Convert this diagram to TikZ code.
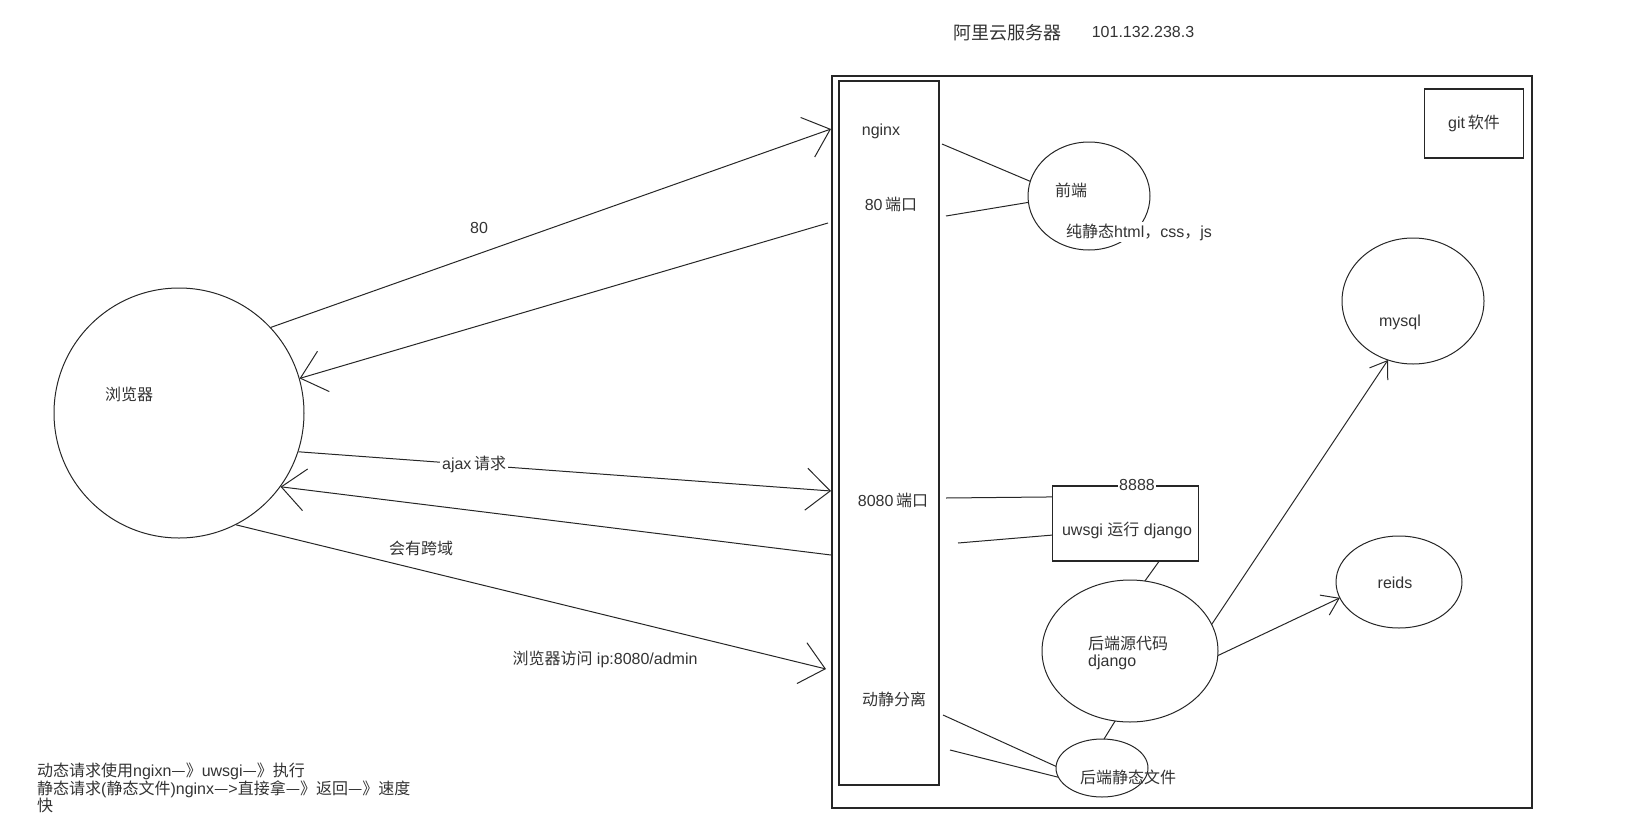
\documentclass[tikz,border=0pt]{standalone}
\usepackage{fontspec}
\setmainfont{Liberation Sans}
\newfontfamily\zhfont{Noto Sans CJK SC}
\newcommand\zh[1]{{\zhfont #1}}
\usetikzlibrary{shapes.geometric,arrows.meta}
\tikzset{
  ln/.style={line width=1pt, draw=black!85},
  arr/.style={ln, -{Straight Barb[length=24pt,width=42pt,line width=1pt]}},
  sarr/.style={ln, -{Straight Barb[length=16pt,width=22pt,line width=1pt]}},
  lbl/.style={text=black!80, font=\fontsize{16}{19}\selectfont, inner sep=1pt},
  ell/.style={draw=black!85, ellipse, line width=1pt, inner sep=0pt, outer sep=0pt},
  box/.style={draw=black!85, line width=1.2pt, inner sep=0pt, outer sep=0pt}
}
\begin{document}
\begin{tikzpicture}[x=1pt,y=-1pt]
\useasboundingbox (0,0) rectangle (1634,825);
% title
\node[lbl, font=\fontsize{18}{21}\selectfont] (title) at (1007,33) {\zh{阿里云服务器}};
\node[lbl] (ip) at (1143,32) {101.132.238.3};
% server frame and nginx column
\node[box, anchor=north west, minimum width=700pt, minimum height=732pt] (server) at (832,76) {};
\node[box, anchor=north west, minimum width=100pt, minimum height=704pt] (ngx) at (839,81) {};
\node[lbl] (tnginx) at (881,131) {nginx};
\node[lbl] (t80) at (891,204) {80\,\zh{端口}};
\node[lbl] (t8080) at (893,500) {8080\,\zh{端口}};
\node[lbl] (tdj) at (894,699) {\zh{动静分离}};
% browser
\node[draw=black!85, circle, line width=1pt, minimum size=250pt, inner sep=0pt] (browser) at (179,413) {};
\node[lbl] (tbrowser) at (129,394) {\zh{浏览器}};
% front end
\node[ell, minimum width=122pt, minimum height=108pt] (front) at (1089,196) {};
\node[lbl] (tfront) at (1071,190) {\zh{前端}};
\node[lbl, fill=white, inner sep=2pt] (tstatic) at (1139,232) {\zh{纯静态}html\zh{，}css\zh{，}js};
% git
\node[box, minimum width=99pt, minimum height=69pt, lbl] (git) at (1474,123.5) {git\,\zh{软件}};
% mysql, reids
\node[ell, minimum width=142pt, minimum height=126pt] (mysql) at (1413,301) {};
\node[lbl] (tmysql) at (1400,322) {mysql};
\node[ell, minimum width=126pt, minimum height=92pt] (reids) at (1399,582) {};
\node[lbl] (treids) at (1395,583) {reids};
% uwsgi
\node[box, minimum width=146pt, minimum height=75pt] (uwsgi) at (1125.5,523.5) {};
\node[lbl, fill=white, inner sep=1pt] (t8888) at (1137,485) {8888};
\node[lbl] (tuwsgi) at (1127,530) {uwsgi \zh{运行} django};
% backend
\node[ell, minimum width=176pt, minimum height=142pt] (backend) at (1130,651) {};
\node[lbl, anchor=west] (tback1) at (1087,643) {\zh{后端源代码}};
\node[lbl, anchor=west] (tback2) at (1087,662) {django};
\node[ell, minimum width=92pt, minimum height=58pt] (static) at (1102,768) {};
\node[lbl] (tstaticfile) at (1128,777) {\zh{后端静态文件}};
% coordinates on the server side
\coordinate (n80in) at (831,129);
\coordinate (n80out) at (828,223);
\coordinate (n8080in) at (831,491);
\coordinate (n8080out) at (831,555);
\coordinate (nadmin) at (826,669);
\coordinate (nf1) at (942,144);
\coordinate (nf2) at (946,216);
\coordinate (nu1) at (946,498);
\coordinate (nu2) at (958,543);
\coordinate (nd1) at (943,715);
\coordinate (nd2) at (950,750);
% browser connectors
\draw[arr] (browser.43) -- (n80in);
\node[lbl] (t80lbl) at (479,228) {80};
\draw[arr] (n80out) -- (browser.16);
\draw[arr] (browser.-18) -- node[lbl, fill=white, pos=0.33, inner sep=2pt] (tajax) {ajax\,\zh{请求}} (n8080in);
\draw[arr] (n8080out) -- (browser.-36);
\node[lbl] (tcross) at (421,548) {\zh{会有跨域}};
\draw[arr] (browser.-63) -- (nadmin);
\node[lbl] (tadmin) at (605,659) {\zh{浏览器访问} ip:8080/admin};
% server internal connectors
\draw[ln] (nf1) -- (front.166);
\draw[ln] (nf2) -- (front.186);
\draw[ln] (nu1) -- (uwsgi.160.6);
\draw[ln] (nu2) -- (uwsgi.189);
\draw[ln] (uwsgi.-48) -- (backend.78);
\draw[ln] (backend.-102) -- (static.86);
\draw[ln] (nd1) -- (static.178);
\draw[ln] (nd2) -- (static.192);
\draw[sarr] (backend.18) -- (mysql.-113);
\draw[sarr] (backend.-3) -- (reids.195);
% note
\node[lbl, anchor=north west, align=left, inner sep=0pt, font=\fontsize{16}{17}\selectfont] (note) at (37,763)
 {\zh{动态请求使用}ngixn\zh{—》}uwsgi\zh{—》执行}\\\zh{静态请求}(\zh{静态文件})nginx\zh{—}>\zh{直接拿—》返回—》速度}\\\zh{快}};
\end{tikzpicture}
\end{document}
